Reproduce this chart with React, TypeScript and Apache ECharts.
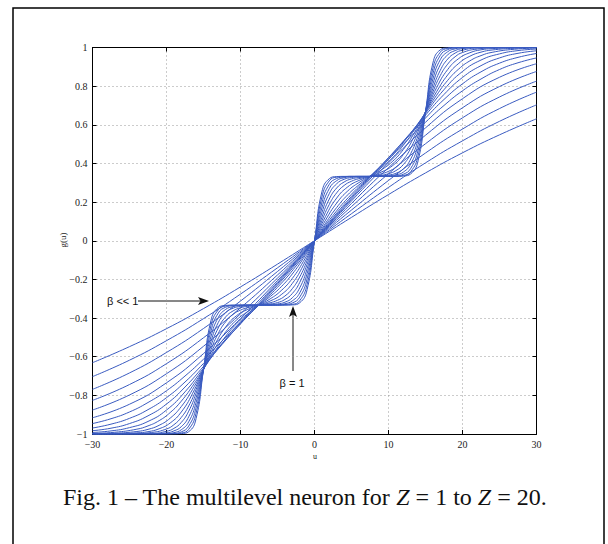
import React, { useEffect, useRef } from "react";
import * as echarts from "echarts";

// u sample grids (read along the x axis)
const U_C = [-30, -25, -20, -15, -10, -5, 0, 5, 10, 15, 20, 25, 30];
const U_M = [-30, -27.5, -25, -22.5, -20, -17.5, -15, -12.5, -10, -7.5, -5, -2.5, 0, 2.5, 5, 7.5, 10, 12.5, 15, 17.5, 20, 22.5, 25, 27.5, 30];
const U_15 = [-30, -27, -24, -22.5, -21, -19.5, -18, -16.5, -15, -13.5, -12, -10.5, -9, -7.5, -6, -4.5, -3, -1.5, 0, 1.5, 3, 4.5, 6, 7.5, 9, 10.5, 12, 13.5, 15, 16.5, 18, 19.5, 21, 22.5, 24, 27, 30];
const U_F = [-30, -25, -22, -20, -19, -18, -17, -16, -15, -14, -13, -12, -11, -10, -9, -7.5, -6, -5, -4, -3, -2, -1, 0, 1, 2, 3, 4, 5, 6, 7.5, 9, 10, 11, 12, 13, 14, 15, 16, 17, 18, 19, 20, 22, 25, 30];

// g(u) values for each curve (flattest, beta << 1 -> steepest, beta = 1)
const G01 = [-0.631, -0.548, -0.455, -0.351, -0.239, -0.121, 0, 0.121, 0.239, 0.351, 0.455, 0.548, 0.631];
const G02 = [-0.703, -0.618, -0.517, -0.403, -0.276, -0.14, 0, 0.14, 0.276, 0.403, 0.517, 0.618, 0.703];
const G03 = [-0.769, -0.684, -0.578, -0.454, -0.312, -0.159, 0, 0.159, 0.312, 0.454, 0.578, 0.684, 0.769];
const G04 = [-0.826, -0.744, -0.636, -0.502, -0.347, -0.177, 0, 0.177, 0.347, 0.502, 0.636, 0.744, 0.826];
const G05 = [-0.876, -0.798, -0.688, -0.546, -0.378, -0.193, 0, 0.193, 0.378, 0.546, 0.688, 0.798, 0.876];
const G06 = [-0.916, -0.846, -0.735, -0.584, -0.403, -0.206, 0, 0.206, 0.403, 0.584, 0.735, 0.846, 0.916];
const G07 = [-0.946, -0.921, -0.886, -0.837, -0.776, -0.7, -0.613, -0.519, -0.42, -0.319, -0.215, -0.108, 0, 0.108, 0.215, 0.319, 0.42, 0.519, 0.613, 0.7, 0.776, 0.837, 0.886, 0.921, 0.946];
const G08 = [-0.969, -0.949, -0.919, -0.874, -0.812, -0.731, -0.635, -0.533, -0.429, -0.327, -0.222, -0.113, 0, 0.113, 0.222, 0.327, 0.429, 0.533, 0.635, 0.731, 0.812, 0.874, 0.919, 0.949, 0.969];
const G09 = [-0.983, -0.97, -0.946, -0.906, -0.845, -0.757, -0.65, -0.537, -0.43, -0.331, -0.23, -0.12, 0, 0.12, 0.23, 0.331, 0.43, 0.537, 0.65, 0.757, 0.845, 0.906, 0.946, 0.97, 0.983];
const G10 = [-0.992, -0.984, -0.967, -0.935, -0.876, -0.782, -0.659, -0.532, -0.423, -0.333, -0.241, -0.131, 0, 0.131, 0.241, 0.333, 0.423, 0.532, 0.659, 0.782, 0.876, 0.935, 0.967, 0.984, 0.992];
const G11 = [-0.997, -0.991, -0.975, -0.958, -0.931, -0.889, -0.83, -0.753, -0.664, -0.574, -0.494, -0.428, -0.377, -0.333, -0.289, -0.238, -0.172, -0.091, 0, 0.091, 0.172, 0.238, 0.289, 0.333, 0.377, 0.428, 0.494, 0.574, 0.664, 0.753, 0.83, 0.889, 0.931, 0.958, 0.975, 0.991, 0.997];
const G12 = [-0.999, -0.996, -0.987, -0.976, -0.955, -0.918, -0.858, -0.771, -0.666, -0.559, -0.472, -0.409, -0.366, -0.333, -0.301, -0.258, -0.195, -0.107, 0, 0.107, 0.195, 0.258, 0.301, 0.333, 0.366, 0.409, 0.472, 0.559, 0.666, 0.771, 0.858, 0.918, 0.955, 0.976, 0.987, 0.996, 0.999];
const G13 = [-1, -0.999, -0.994, -0.988, -0.973, -0.943, -0.886, -0.792, -0.666, -0.541, -0.446, -0.387, -0.355, -0.333, -0.312, -0.279, -0.221, -0.126, 0, 0.126, 0.221, 0.279, 0.312, 0.333, 0.355, 0.387, 0.446, 0.541, 0.666, 0.792, 0.886, 0.943, 0.973, 0.988, 0.994, 0.999, 1];
const G14 = [-1, -0.999, -0.992, -0.974, -0.952, -0.914, -0.855, -0.77, -0.667, -0.564, -0.479, -0.419, -0.381, -0.359, -0.346, -0.333, -0.321, -0.308, -0.286, -0.248, -0.188, -0.103, 0, 0.103, 0.188, 0.248, 0.286, 0.308, 0.321, 0.333, 0.346, 0.359, 0.381, 0.419, 0.479, 0.564, 0.667, 0.77, 0.855, 0.914, 0.952, 0.974, 0.992, 0.999, 1];
const G15 = [-1, -0.999, -0.997, -0.986, -0.971, -0.94, -0.882, -0.789, -0.667, -0.544, -0.451, -0.394, -0.363, -0.347, -0.339, -0.333, -0.327, -0.32, -0.304, -0.273, -0.216, -0.122, 0, 0.122, 0.216, 0.273, 0.304, 0.32, 0.327, 0.333, 0.339, 0.347, 0.363, 0.394, 0.451, 0.544, 0.667, 0.789, 0.882, 0.94, 0.971, 0.986, 0.997, 0.999, 1];
const G16 = [-1, -1, -0.999, -0.994, -0.984, -0.962, -0.911, -0.812, -0.667, -0.522, -0.423, -0.372, -0.349, -0.34, -0.336, -0.333, -0.331, -0.327, -0.318, -0.295, -0.244, -0.145, 0, 0.145, 0.244, 0.295, 0.318, 0.327, 0.331, 0.333, 0.336, 0.34, 0.349, 0.372, 0.423, 0.522, 0.667, 0.812, 0.911, 0.962, 0.984, 0.994, 0.999, 1, 1];
const G17 = [-1, -1, -1, -0.998, -0.993, -0.978, -0.937, -0.837, -0.667, -0.497, -0.397, -0.355, -0.341, -0.336, -0.334, -0.333, -0.333, -0.331, -0.326, -0.311, -0.27, -0.17, 0, 0.17, 0.27, 0.311, 0.326, 0.331, 0.333, 0.333, 0.334, 0.336, 0.341, 0.355, 0.397, 0.497, 0.667, 0.837, 0.937, 0.978, 0.993, 0.998, 1, 1, 1];
const G18 = [-1, -1, -1, -0.999, -0.997, -0.989, -0.959, -0.864, -0.667, -0.469, -0.374, -0.344, -0.336, -0.334, -0.333, -0.333, -0.333, -0.333, -0.33, -0.322, -0.292, -0.197, 0, 0.197, 0.292, 0.322, 0.33, 0.333, 0.333, 0.333, 0.333, 0.334, 0.336, 0.344, 0.374, 0.469, 0.667, 0.864, 0.959, 0.989, 0.997, 0.999, 1, 1, 1];
const G19 = [-1, -1, -1, -1, -0.999, -0.995, -0.976, -0.892, -0.667, -0.441, -0.357, -0.338, -0.334, -0.333, -0.333, -0.333, -0.333, -0.333, -0.332, -0.329, -0.31, -0.226, 0, 0.226, 0.31, 0.329, 0.332, 0.333, 0.333, 0.333, 0.333, 0.333, 0.334, 0.338, 0.357, 0.441, 0.667, 0.892, 0.976, 0.995, 0.999, 1, 1, 1, 1];
const G20 = [-1, -1, -1, -1, -1, -0.998, -0.988, -0.92, -0.667, -0.414, -0.346, -0.335, -0.333, -0.333, -0.333, -0.333, -0.333, -0.333, -0.333, -0.332, -0.321, -0.253, 0, 0.253, 0.321, 0.332, 0.333, 0.333, 0.333, 0.333, 0.333, 0.333, 0.333, 0.335, 0.346, 0.414, 0.667, 0.92, 0.988, 0.998, 1, 1, 1, 1, 1];

const CURVES: [number[], number[]][] = [
  [U_C, G01], [U_C, G02], [U_C, G03], [U_C, G04], [U_C, G05], [U_C, G06],
  [U_M, G07], [U_M, G08], [U_M, G09], [U_M, G10],
  [U_15, G11], [U_15, G12], [U_15, G13],
  [U_F, G14], [U_F, G15], [U_F, G16], [U_F, G17], [U_F, G18], [U_F, G19], [U_F, G20],
];

const X_TICKS = { min: -30, max: 30, interval: 10 };
const Y_TICKS = { min: -1, max: 1, interval: 0.2 };

const CAPTION = "Fig. 1 \u2013 The multilevel neuron for {i|Z} = 1 to {i|Z} = 20.";
const LINE_COLOR = "#3a5bc0";

const fmt = (v: number) => {
  const r = Math.round(v * 10) / 10;
  const s = String(Math.abs(r));
  return r < 0 ? "\u2212" + s : s;
};

export default function App() {
  const ref = useRef<HTMLDivElement>(null);
  useEffect(() => {
    if (!ref.current) return;
    const chart = echarts.init(ref.current, undefined, { renderer: "svg" });
    const serif = "'Liberation Serif', 'Times New Roman', serif";
    const sans = "'Liberation Sans', Arial, sans-serif";
    const axisCommon = {
      axisLine: { show: true, onZero: false, lineStyle: { color: "#000", width: 1 } },
      axisTick: { show: true, inside: true, length: 4, lineStyle: { color: "#000", width: 1 } },
    };
    const tickLabel = { fontFamily: serif, fontSize: 10, color: "#222" };
    const split = { show: true, lineStyle: { color: "#999", width: 1, type: [1, 3] as any } };
    chart.setOption({
      animation: false,
      backgroundColor: "#fff",
      grid: { left: 92.5, top: 47.5, width: 444, height: 386.5, containLabel: false },
      xAxis: [
        { type: "value", ...X_TICKS, position: "bottom", ...axisCommon,
          axisLabel: { ...tickLabel, margin: 5, formatter: (v: number) => fmt(v) }, splitLine: split },
        { type: "value", ...X_TICKS, position: "top", ...axisCommon,
          axisLabel: { show: false }, splitLine: { show: false } },
      ],
      yAxis: [
        { type: "value", ...Y_TICKS, position: "left", ...axisCommon,
          axisLabel: { ...tickLabel, margin: 5, formatter: (v: number) => fmt(v) }, splitLine: split },
        { type: "value", ...Y_TICKS, position: "right", ...axisCommon,
          axisLabel: { show: false }, splitLine: { show: false } },
      ],
      series: CURVES.map(([u, g], i) => ({
        type: "line",
        name: "curve " + (i + 1),
        xAxisIndex: 0,
        yAxisIndex: 0,
        data: u.map((x, j) => [x, g[j]]),
        showSymbol: false,
        smooth: 0.5,
        lineStyle: { color: LINE_COLOR, width: 1 },
        silent: true,
      })),
      graphic: [
        { type: "rect", shape: { x: 13, y: 8, width: 591, height: 600 },
          style: { fill: "none", stroke: "#000", lineWidth: 1.5 }, silent: true },
        { type: "text", x: 63, y: 497,
          style: { text: CAPTION, fontFamily: serif, fontSize: 24, fill: "#111", verticalAlign: "middle",
            rich: { i: { fontFamily: serif, fontSize: 24, fontStyle: "italic", fill: "#111" } } } },
        { type: "text", x: 63, y: 240, rotation: Math.PI / 2,
          style: { text: "g(u)", fontFamily: serif, fontSize: 9, fill: "#222", align: "center", verticalAlign: "middle" } },
        { type: "text", x: 315, y: 456,
          style: { text: "u", fontFamily: serif, fontSize: 8, fill: "#222", align: "center", verticalAlign: "middle" } },
        { type: "text", x: 107, y: 301,
          style: { text: "\u03b2 << 1", fontFamily: sans, fontSize: 11, fill: "#111", align: "left", verticalAlign: "middle" } },
        { type: "line", shape: { x1: 138, y1: 301, x2: 201, y2: 301 }, style: { stroke: "#111", lineWidth: 1 } },
        { type: "polygon", shape: { points: [[209, 301], [198, 297], [200.5, 301], [198, 305]] }, style: { fill: "#111" } },
        { type: "text", x: 292, y: 383,
          style: { text: "\u03b2 = 1", fontFamily: sans, fontSize: 11, fill: "#111", align: "center", verticalAlign: "middle" } },
        { type: "line", shape: { x1: 293, y1: 371, x2: 293, y2: 314 }, style: { stroke: "#111", lineWidth: 1 } },
        { type: "polygon", shape: { points: [[293, 306], [289, 317], [293, 314.5], [297, 317]] }, style: { fill: "#111" } },
      ],
    });
    return () => chart.dispose();
  }, []);
  return (
    <div style={{ position: "fixed", left: 0, top: 0, width: 608, height: 544, background: "#fff" }}>
      <div ref={ref} style={{ width: 608, height: 544 }} />
    </div>
  );
}
